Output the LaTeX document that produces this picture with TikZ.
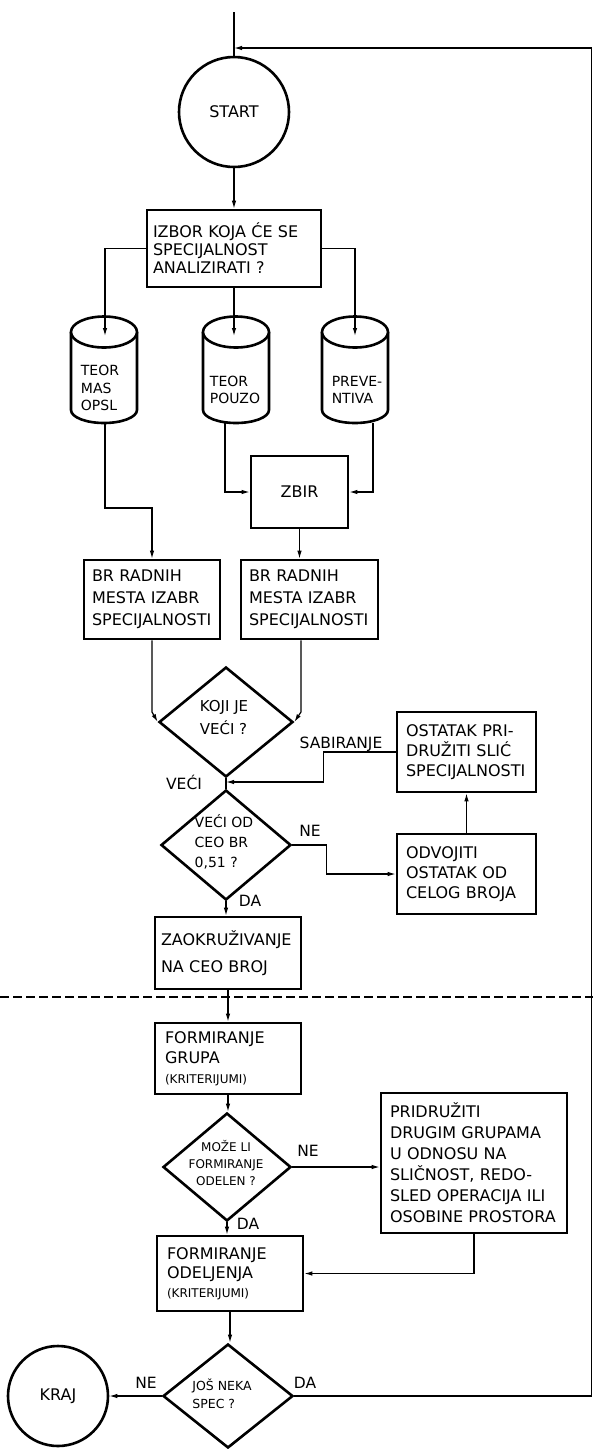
\documentclass[tikz,border=0pt]{standalone}
\usepackage{fontspec}
\setmainfont{DejaVu Sans}
\usetikzlibrary{arrows.meta,shapes.geometric,calc}
\newcommand\fB{\fontsize{16}{20}\selectfont}
\newcommand\fL{\fontsize{15.5}{18}\selectfont}
\newcommand\cylshape[1]{%
  \draw[shp] ({#1-33},332) -- ({#1-33},410) arc[start angle=180,end angle=0,x radius=33,y radius=13] -- ({#1+33},332);
  \draw[shp,fill=white] (#1,332) ellipse[x radius=33,y radius=15.5];}
\begin{document}
\begin{tikzpicture}[x=1pt,y=-1pt,
  conn/.style={line width=1.2pt},
  arr/.style={conn,-{Latex[length=8pt,width=4.5pt]}},
  shp/.style={line width=2.6pt},
  box/.style={draw,shp,inner sep=0pt,align=left,font=\fB},
  dia/.style={draw,shp,diamond,inner sep=0pt},
  lbl/.style={font=\fL,inner sep=0pt,anchor=base},
  dtxt/.style={inner sep=0pt,align=left},
  cyltxt/.style={align=left,inner sep=0pt,font={\fontsize{14}{17.5}\selectfont}},
  term/.style={circle,draw,shp,inner sep=0pt,font={\fontsize{16}{18}\selectfont}}]
\useasboundingbox (0,0) rectangle (593,1449);

% terminals
\node[term,minimum size=110pt] (start) at (234,112) {START};
\node[term,minimum size=100pt] (kraj) at (58,1396) {KRAJ};

% selection box
\node[box,minimum width=174pt,minimum height=77pt,text width=162pt,font={\fontsize{16}{18}\selectfont}] (izbor) at (234,248.5) {IZBOR KOJA ĆE SE\\SPECIJALNOST\\ANALIZIRATI ?};

% cylinders
\cylshape{104}
\cylshape{236}
\cylshape{355}
\node[cyltxt] (c1) at (100,388) {TEOR\\MAS\\OPSL};
\node[cyltxt] (c2) at (235,390) {TEOR\\POUZO};
\node[cyltxt] (c3) at (357,390) {PREVE-\\NTIVA};
\coordinate (c1t) at (105,336);
\coordinate (c1b) at (105,423);
\coordinate (c2t) at (234,336);
\coordinate (c2b) at (225,423);
\coordinate (c3t) at (355,336);
\coordinate (c3b) at (373,423);

% boxes
\node[box,minimum width=97pt,minimum height=72pt,align=center] (zbir) at (299.5,492) {ZBIR};
\node[box,minimum width=136pt,minimum height=79pt,text width=120pt,font={\fontsize{16}{22}\selectfont}] (br1) at (152,599.5) {BR RADNIH\\MESTA IZABR\\SPECIJALNOSTI};
\node[box,minimum width=137pt,minimum height=79pt,text width=121pt,font={\fontsize{16}{22}\selectfont}] (br2) at (309.5,599.5) {BR RADNIH\\MESTA IZABR\\SPECIJALNOSTI};
\node[box,minimum width=139pt,minimum height=80pt,text width=121pt] (ostatak) at (466.5,752) {OSTATAK PRI-\\DRUŽITI SLIĆ\\SPECIJALNOSTI};
\node[box,minimum width=139pt,minimum height=80pt,text width=121pt] (odvojiti) at (466.5,874) {ODVOJITI\\OSTATAK OD\\CELOG BROJA};
\node[box,minimum width=146pt,minimum height=72pt,text width=134pt,font={\fontsize{16}{27}\selectfont}] (zaok) at (228,953) {ZAOKRUŽIVANJE\\NA CEO BROJ};
\node[box,minimum width=146pt,minimum height=71pt,text width=126pt] (grupa) at (228,1058.5) {FORMIRANJE\\GRUPA\\{\fontsize{12}{14}\selectfont (KRITERIJUMI)}};
\node[box,minimum width=186pt,minimum height=140pt,text width=168pt,font={\fontsize{16}{21}\selectfont}] (pridr) at (474,1163) {PRIDRUŽITI\\DRUGIM GRUPAMA\\U ODNOSU NA\\SLIČNOST, REDO-\\SLED OPERACIJA ILI\\OSOBINE PROSTORA};
\node[box,minimum width=146pt,minimum height=75pt,text width=126pt,font={\fontsize{16}{19}\selectfont}] (odelj) at (230,1273.5) {FORMIRANJE\\ODELJENJA\\{\fontsize{12}{14}\selectfont (KRITERIJUMI)}};

% decisions
\node[dia,minimum width=134pt,minimum height=110pt] (koji) at (226,722) {};
\node[dtxt,font={\fontsize{15}{23}\selectfont}] (kojit) at (224,718) {KOJI JE\\VEĆI ?};
\node[dia,minimum width=130pt,minimum height=110pt] (veci) at (226,845) {};
\node[dtxt,font={\fontsize{14}{20}\selectfont}] (vecit) at (224,842) {VEĆI OD\\CEO BR\\0,51 ?};
\node[dia,minimum width=128pt,minimum height=108pt] (moze) at (227,1167) {};
\node[dtxt,align=center,font={\fontsize{12}{17}\selectfont}] (mozet) at (226,1163) {MOŽE LI\\FORMIRANJE\\ODELEN ?};
\node[dia,minimum width=130pt,minimum height=104pt] (jos) at (228,1396) {};
\node[dtxt,font={\fontsize{12.5}{18}\selectfont}] (jost) at (222,1394) {JOŠ NEKA\\SPEC ?};

% labels
\node[lbl] (lveci) at (184,789) {VEĆI};
\node[lbl] (lsab) at (341,748) {SABIRANJE};
\node[lbl] (lne1) at (310,836) {NE};
\node[lbl] (lda1) at (250,906) {DA};
\node[lbl] (lne2) at (308,1156) {NE};
\node[lbl] (lda2) at (248,1229) {DA};
\node[lbl] (lne3) at (146,1388) {NE};
\node[lbl] (lda3) at (305,1388) {DA};

% helper coordinates
\coordinate (fbtop) at (234,12);
\coordinate (fbin) at (234,48);
\coordinate (fbcorner) at (591.5,48);
\coordinate (k1) at (152,508);
\coordinate (k2) at (152,712);
\coordinate (k3) at (301,712);
\coordinate (sj) at (226,782);
\coordinate (dashL) at (0,997);
\coordinate (dashR) at (593,997);

% connectors
\draw[conn] (fbtop) -- (start.north);
\draw[arr] (jos.east) -| (fbcorner) -- (fbin);
\draw[arr] (start.south) -- (izbor.north);
\draw[arr] (izbor.west) -| (c1t);
\draw[arr] (izbor.south) -- (c2t);
\draw[arr] (izbor.east) -| (c3t);
\draw[arr] (c1b) |- (k1) -- (br1.north);
\draw[arr] (c2b) |- (zbir.west);
\draw[arr] (c3b) |- (zbir.east);
\draw[arr] (zbir.south) -- (zbir.south |- br2.north);
\draw[arr] (br1.south) -- (k2) -- (koji.west);
\draw[arr] (k3 |- br2.south) -- (k3) -- (koji.east);
\draw[conn] (koji.south) -- (veci.north);
\draw[arr] (ostatak.west) -- ++(-72,0) |- (sj);
\draw[arr] (veci.east) -- ++(34,0) |- (odvojiti.west);
\draw[arr] (odvojiti.north) -- (ostatak.south);
\draw[arr] (veci.south) -- (veci.south |- zaok.north);
\draw[arr] (zaok.south) -- (zaok.south |- grupa.north);
\draw[arr] (grupa.south) -- (grupa.south |- moze.north);
\draw[arr] (moze.east) -- (moze.east -| pridr.west);
\draw[arr] (moze.south) -- (moze.south |- odelj.north);
\draw[arr] (pridr.south) |- (odelj.east);
\draw[arr] (odelj.south) -- (odelj.south |- jos.north);
\draw[arr] (jos.west) -- (kraj.east);
\draw[conn,dash pattern=on 9pt off 4pt] (dashL) -- (dashR);
\end{tikzpicture}
\end{document}
